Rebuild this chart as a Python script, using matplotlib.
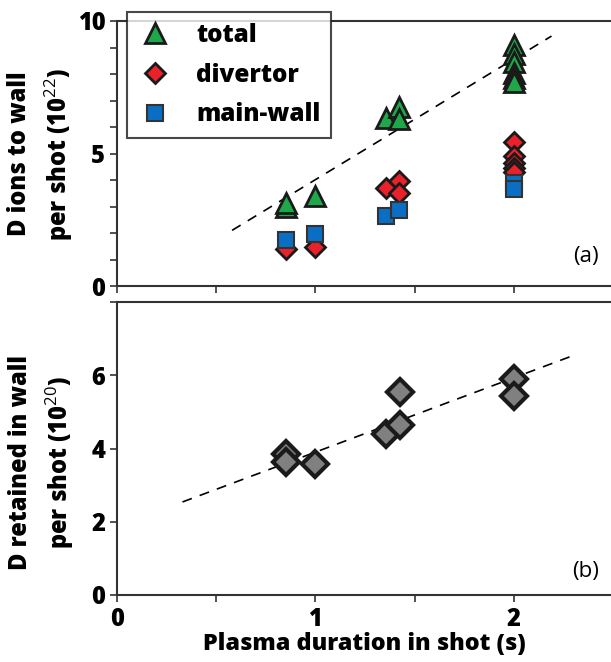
import matplotlib
matplotlib.use("Agg")
import matplotlib.pyplot as plt
from matplotlib.lines import Line2D

plt.rcParams['font.family'] = ['Open Sans', 'DejaVu Sans']
plt.rcParams['mathtext.fontset'] = 'custom'
plt.rcParams['mathtext.rm'] = 'Open Sans'
plt.rcParams['mathtext.bf'] = 'Open Sans:bold'

# ---- data (top panel) ----
tot_x = [0.85, 0.85, 1.0, 1.355, 1.42, 1.42, 2.0, 2.0, 2.0, 2.0, 2.0, 2.0]
tot_y = [3.0, 3.15, 3.4, 6.35, 6.75, 6.3, 9.1, 8.75, 8.45, 8.05, 7.85, 7.7]
div_x = [0.85, 1.0, 1.355, 1.42, 1.42, 2.0, 2.0, 2.0, 2.0, 2.0]
div_y = [1.4, 1.47, 3.7, 3.95, 3.5, 5.45, 4.9, 4.65, 4.45, 4.3]
mw_x = [0.85, 1.0, 1.355, 1.42, 2.0, 2.0]
mw_y = [1.72, 1.95, 2.65, 2.85, 3.9, 3.65]
fit_a_x = [0.58, 2.19]
fit_a_y = [2.1, 9.43]

# ---- data (bottom panel) ----
ret_x = [0.85, 0.85, 1.0, 1.355, 1.425, 1.425, 2.0, 2.0]
ret_y = [3.85, 3.64, 3.57, 4.4, 4.63, 5.54, 5.89, 5.42]
fit_b_x = [0.33, 2.32]
fit_b_y = [2.54, 6.58]

labels = ['total', 'divertor', 'main-wall']
xticks = [0, 1, 2]

W, H = 611, 662
fig = plt.figure(figsize=(W / 100, H / 100), dpi=100)

def pos(l, t, r, b):
    return [l / W, 1 - b / H, (r - l) / W, (b - t) / H]

ax1 = fig.add_axes(pos(117, 21, 611, 286))
ax2 = fig.add_axes(pos(117, 302, 611, 595))

WEIGHT = 'heavy'
spine_c = '#333333'
for ax in (ax1, ax2):
    ax.set_xlim(0, 2.49)
    ax.spines['right'].set_visible(False)
    for s in ('left', 'bottom', 'top'):
        ax.spines[s].set_color(spine_c)
        ax.spines[s].set_linewidth(1.5)
    ax.tick_params(axis='both', which='both', direction='out', color=spine_c, width=1.2)
    ax.tick_params(axis='both', which='major', length=5, labelsize=17)
    ax.tick_params(axis='both', which='minor', length=5)
    ax.set_xticks(xticks)
    ax.set_xticks([0.5, 1.5], minor=True)

dash = (0, (6, 5))
# top panel
ax1.plot(fit_a_x, fit_a_y, color='black', lw=1.2, linestyle=dash, zorder=1)
ax1.plot(tot_x, tot_y, linestyle='none', marker='^', ms=15, mfc='#1fa84a', mec='#1a1a1a', mew=2, zorder=3)
ax1.plot(div_x, div_y, linestyle='none', marker='D', ms=10.5, mfc='#e8212b', mec='#1a1a1a', mew=2, zorder=3)
ax1.plot(mw_x, mw_y, linestyle='none', marker='s', ms=12, mfc='#0a6fc4', mec='#333333', mew=1.5, zorder=4)
ax1.set_ylim(0, 10)
ax1.set_yticks([0, 5, 10])
ax1.set_yticks([1, 2, 3, 4, 6, 7, 8, 9], minor=True)
ax1.set_yticklabels(['0', '5', '10'], fontweight=WEIGHT)
ax1.set_xticklabels([])
ax1.text(2.43, 1.1, '(a)', fontsize=16, ha='right', va='center')

# bottom panel
ax2.plot(fit_b_x, fit_b_y, color='black', lw=1.2, linestyle=dash, zorder=1)
ax2.plot(ret_x, ret_y, linestyle='none', marker='D', ms=13, mfc='#808080', mec='#1a1a1a', mew=3, zorder=3)
ax2.set_ylim(0, 8)
ax2.set_yticks([0, 2, 4, 6, 8])
ax2.set_yticklabels(['0', '2', '4', '6', ''], fontweight=WEIGHT)
ax2.set_xticklabels(['0', '1', '2'], fontweight=WEIGHT)
ax2.text(2.43, 0.65, '(b)', fontsize=16, ha='right', va='center')
ax2.set_xlabel('Plasma duration in shot (s)', fontsize=16.8, fontweight=WEIGHT, labelpad=0)

# y labels
fig.text(41 / W, 1 - 154 / H, 'D ions to wall\nper shot (10$^{22}$)', rotation=90,
         ha='center', va='center', fontsize=17, fontweight=WEIGHT, linespacing=1.5, multialignment='center')
fig.text(42 / W, 1 - 462 / H, 'D retained in wall\nper shot (10$^{20}$)', rotation=90,
         ha='center', va='center', fontsize=17, fontweight=WEIGHT, linespacing=1.5, multialignment='center')

# legend
handles = [
    Line2D([], [], linestyle='none', marker='^', ms=15, mfc='#1fa84a', mec='#1a1a1a', mew=2),
    Line2D([], [], linestyle='none', marker='D', ms=10.5, mfc='#e8212b', mec='#1a1a1a', mew=2),
    Line2D([], [], linestyle='none', marker='s', ms=12, mfc='#0a6fc4', mec='#333333', mew=1.5),
]
leg = fig.legend(handles, labels, loc='upper left', bbox_to_anchor=(127 / W, 1 - 12 / H),
                 borderaxespad=0, frameon=True, fancybox=False,
                 prop={'weight': WEIGHT, 'size': 17.5}, labelspacing=0.6, handletextpad=1.0,
                 borderpad=0.45, handlelength=1.4)
leg.get_frame().set_edgecolor('#1a1a1a')
leg.get_frame().set_linewidth(1.5)
leg.set_zorder(10)

fig.savefig('out.png', dpi=100)
